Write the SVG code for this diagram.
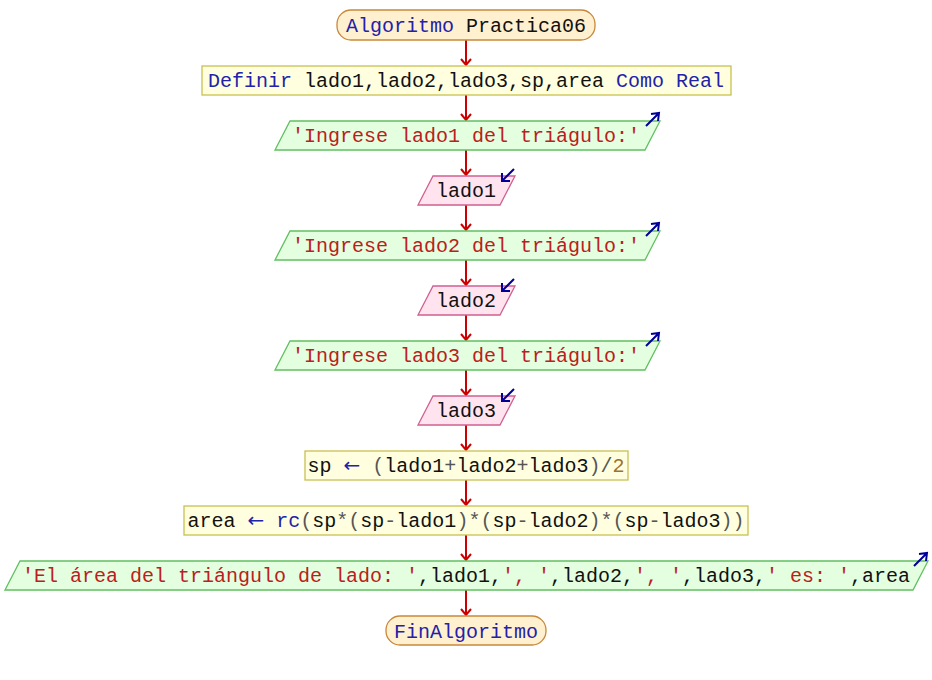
<svg xmlns="http://www.w3.org/2000/svg" width="932" height="680" viewBox="0 0 932 680">
<style>
text{font-family:"Liberation Mono","Courier New",monospace;font-size:20px;fill:#111;text-anchor:middle}
.kw{fill:#2222aa}
.ar{fill:#2222aa;font-family:"DejaVu Sans",sans-serif;font-size:20px}
.st{fill:#bb2020}
.nu{fill:#a07030}
.op{fill:#555}
.term{fill:#fff0d0;stroke:#c8883a;stroke-width:1.3}
.proc{fill:#ffffe0;stroke:#c8c050;stroke-width:1.3}
.out{fill:#e4ffe0;stroke:#60c060;stroke-width:1.3}
.in{fill:#ffe4f0;stroke:#d06090;stroke-width:1.3}
.flow{fill:none;stroke:#cc0000;stroke-width:2}
.ico{fill:none;stroke:#000099;stroke-width:2}
</style>
<rect width="932" height="680" fill="#fff"/>
<g id="connectors">
<path class="flow" d="M466,40V65M461,59L466,65L471,59"/>
<path class="flow" d="M466,95V120M461,114L466,120L471,114"/>
<path class="flow" d="M466,150V175M461,169L466,175L471,169"/>
<path class="flow" d="M466,205V230M461,224L466,230L471,224"/>
<path class="flow" d="M466,260V285M461,279L466,285L471,279"/>
<path class="flow" d="M466,315V340M461,334L466,340L471,334"/>
<path class="flow" d="M466,370V395M461,389L466,395L471,389"/>
<path class="flow" d="M466,425V450M461,444L466,450L471,444"/>
<path class="flow" d="M466,480V505M461,499L466,505L471,499"/>
<path class="flow" d="M466,535V560M461,554L466,560L471,554"/>
<path class="flow" d="M466,590V615M461,609L466,615L471,609"/>
</g>
<g id="start">
<rect class="term" x="337" y="10" width="258" height="30" rx="14"/>
<text x="466" y="32"><tspan class="kw">Algoritmo</tspan> Practica06</text>
</g>
<g id="definir">
<rect class="proc" x="202" y="66" width="529" height="29"/>
<text x="466" y="87"><tspan class="kw">Definir</tspan> lado1,lado2,lado3,sp,area <tspan class="kw">Como Real</tspan></text>
</g>
<g id="out1">
<polygon class="out" points="290,121 660,121 645,150 275,150"/>
<text x="466" y="142" class="st">'Ingrese lado1 del triágulo:'</text>
<path class="ico" d="M646,126L659,113M651,114L659,113L658,121"/>
</g>
<g id="in1">
<polygon class="in" points="433,176 515,176 500,205 418,205"/>
<text x="466" y="197">lado1</text>
<path class="ico" d="M514,169L502,181M502,173L502,181L510,181"/>
</g>
<g id="out2">
<polygon class="out" points="290,231 660,231 645,260 275,260"/>
<text x="466" y="252" class="st">'Ingrese lado2 del triágulo:'</text>
<path class="ico" d="M646,236L659,223M651,224L659,223L658,231"/>
</g>
<g id="in2">
<polygon class="in" points="433,286 515,286 500,315 418,315"/>
<text x="466" y="307">lado2</text>
<path class="ico" d="M514,279L502,291M502,283L502,291L510,291"/>
</g>
<g id="out3">
<polygon class="out" points="290,341 660,341 645,370 275,370"/>
<text x="466" y="362" class="st">'Ingrese lado3 del triágulo:'</text>
<path class="ico" d="M646,346L659,333M651,334L659,333L658,341"/>
</g>
<g id="in3">
<polygon class="in" points="433,396 515,396 500,425 418,425"/>
<text x="466" y="417">lado3</text>
<path class="ico" d="M514,389L502,401M502,393L502,401L510,401"/>
</g>
<g id="calc_sp">
<rect class="proc" x="305" y="451" width="323" height="29"/>
<text x="466" y="472">sp <tspan class="ar">←</tspan> <tspan class="op">(</tspan>lado1<tspan class="op">+</tspan>lado2<tspan class="op">+</tspan>lado3<tspan class="op">)/</tspan><tspan class="nu">2</tspan></text>
</g>
<g id="calc_area">
<rect class="proc" x="184" y="506" width="564" height="29"/>
<text x="466" y="527">area <tspan class="ar">←</tspan> <tspan class="kw">rc</tspan><tspan class="op">(</tspan>sp<tspan class="op">*(</tspan>sp<tspan class="op">-</tspan>lado1<tspan class="op">)*(</tspan>sp<tspan class="op">-</tspan>lado2<tspan class="op">)*(</tspan>sp<tspan class="op">-</tspan>lado3<tspan class="op">))</tspan></text>
</g>
<g id="out_final">
<polygon class="out" points="20,561 928,561 913,590 5,590"/>
<text x="466" y="582"><tspan class="st">'El área del triángulo de lado: '</tspan>,lado1,<tspan class="st">', '</tspan>,lado2,<tspan class="st">', '</tspan>,lado3,<tspan class="st">' es: '</tspan>,area</text>
<path class="ico" d="M914,566L927,553M919,554L927,553L926,561"/>
</g>
<g id="end">
<rect class="term" x="386" y="616" width="160" height="29" rx="14"/>
<text x="466" y="638" class="kw">FinAlgoritmo</text>
</g>
</svg>
